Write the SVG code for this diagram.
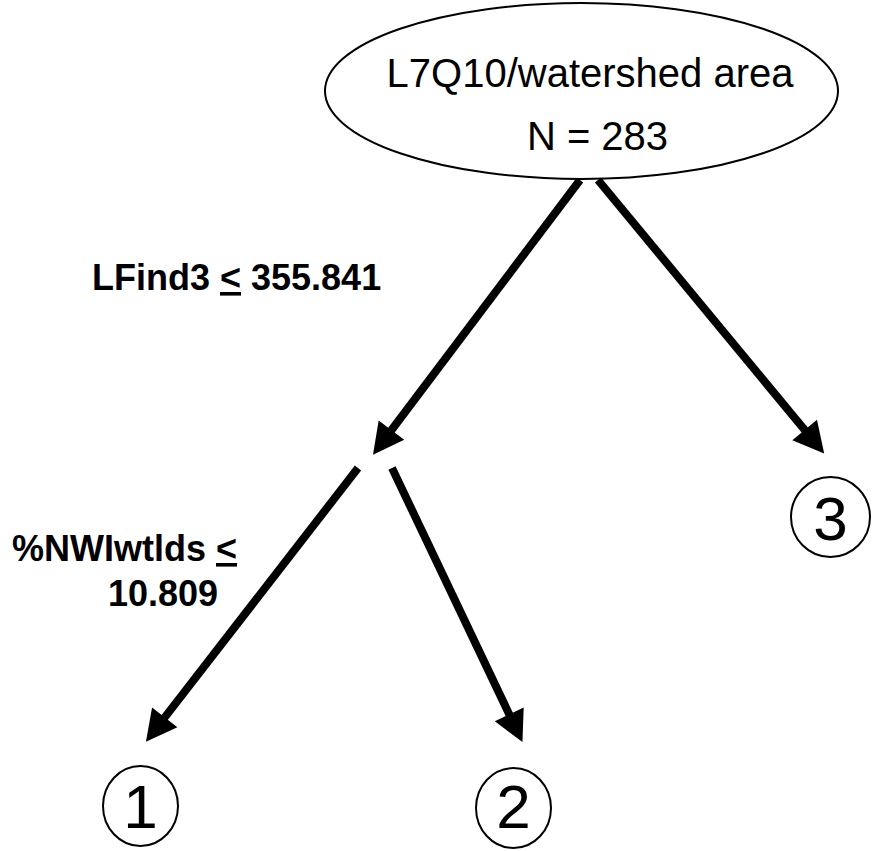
<svg xmlns="http://www.w3.org/2000/svg" width="875" height="851" viewBox="0 0 875 851">
  <style>
    .shape { fill: #ffffff; stroke: #000000; stroke-width: 2; }
    .t { font-family: "Liberation Sans", Arial, sans-serif; fill: #000000; }
    .big { font-size: 40px; }
    .num { font-size: 62px; }
    .lbl { font-size: 36px; font-weight: bold; }
    .edge { stroke: #000000; stroke-width: 8; fill: none; marker-end: url(#head); }
  </style>
  <defs>
    <marker id="head" markerUnits="userSpaceOnUse" markerWidth="40" markerHeight="40" refX="0" refY="0" viewBox="-15 -15 30 30" orient="auto" overflow="visible">
      <path d="M-13,-12 L10,0 L-13,12 Z" fill="#000000"/>
    </marker>
  </defs>
  <rect x="0" y="0" width="875" height="851" fill="#ffffff"/>

  <g id="connectors">
    <line class="edge" x1="580" y1="180" x2="381" y2="444"/>
    <line class="edge" x1="598" y1="180" x2="815.7" y2="443.3"/>
    <line class="edge" x1="358" y1="468" x2="154.1" y2="731.1"/>
    <line class="edge" x1="392" y1="468" x2="516.7" y2="730"/>
  </g>

  <g id="root">
    <ellipse class="shape" cx="581.5" cy="91" rx="256.5" ry="88"/>
    <text class="t big" x="590" y="87" text-anchor="middle">L7Q10/watershed area</text>
    <text class="t big" x="597.5" y="150" text-anchor="middle">N = 283</text>
  </g>

  <g id="split-label-1">
    <text class="t lbl" x="92" y="290">LFind3 <tspan text-decoration="underline">&lt;</tspan> 355.841</text>
  </g>

  <g id="split-label-2">
    <text class="t lbl" x="12" y="561">%NWIwtlds <tspan text-decoration="underline">&lt;</tspan></text>
    <text class="t lbl" x="108" y="606">10.809</text>
  </g>

  <g id="leaf-1">
    <ellipse class="shape" cx="140.5" cy="806" rx="37.5" ry="40"/>
    <text class="t num" x="140.5" y="828" text-anchor="middle">1</text>
  </g>

  <g id="leaf-2">
    <ellipse class="shape" cx="513.5" cy="808" rx="37.5" ry="40"/>
    <text class="t num" x="513.5" y="828" text-anchor="middle">2</text>
  </g>

  <g id="leaf-3">
    <ellipse class="shape" cx="830.5" cy="517" rx="39.5" ry="40"/>
    <text class="t num" x="830.5" y="540" text-anchor="middle">3</text>
  </g>
</svg>
